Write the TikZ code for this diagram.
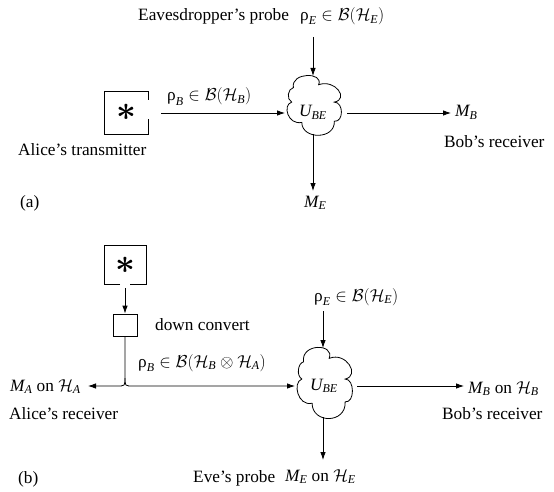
\documentclass[tikz,border=0pt]{standalone}
\usepackage{amsmath}
\usepackage{graphicx}
\usepackage{fontspec}
\setmainfont{Liberation Serif}
\usetikzlibrary{arrows.meta}
\newcommand{\cloudshape}{%
  \draw[line width=0.8pt] (0.15,0.2) .. controls (0.1,-0.07) and (0.7,-0.07) .. (0.6,0.15)
    .. controls (0.9,0.05) and (1.15,0.4) .. (0.88,0.45)
    .. controls (1.05,0.45) and (1.05,0.8) .. (0.88,0.78)
    .. controls (0.9,1.1) and (0.3,1.1) .. (0.3,0.8)
    .. controls (0.05,0.85) and (-0.05,0.5) .. (0.12,0.45)
    .. controls (0.02,0.4) and (0.05,0.22) .. (0.15,0.2) -- cycle;}
\newcommand{\vi}[1]{\textit{#1}}
\newcommand{\rh}{\textup{ρ}}
\newcommand{\bigast}{\scalebox{2.0}{\boldmath$\ast$}}
\begin{document}
\begin{tikzpicture}[x=1pt,y=-1pt,
  every node/.style={font=\fontsize{17.28}{20}\selectfont, inner sep=0pt},
  lbl/.style={anchor=base west},
  arr/.style={-{Latex[length=8pt,width=5.5pt]}, line width=0.8pt},
  ln/.style={line width=0.8pt}]
\useasboundingbox (0,0) rectangle (554,492);

% ---------------- panel (a) ----------------
\node[lbl] (eav) at (138,20.5) {Eavesdropper's probe};
\node[lbl] (rhoEa) at (300,20.5) {$\rh_{\vi{E}} \in \mathcal{B}(\mathcal{H}_{\vi{E}})$};
\coordinate (pa-top) at (313,37);
\coordinate (ua-n) at (313,76);
\coordinate (ua-w) at (285,113);
\coordinate (ua-e) at (347,113);
\coordinate (ua-s) at (313,134);
\coordinate (mb-a) at (451,113);
\coordinate (me-a) at (313,191);

% transmitter box with gap on the right
\node[minimum width=44pt, minimum height=42pt] (ta) at (126,112.5) {\bigast};
\draw[ln] (148,100) -- (148,91) -- (104,91) -- (104,134) -- (148,134) -- (148,119);
\coordinate (ta-out) at (161,113);

\begin{scope}[shift={(285,76)}, x=56pt, y=-58pt]
  \cloudshape
\end{scope}
\node[anchor=base] (ua) at (313,117) {$\vi{U}_{\vi{BE}}$};

\draw[arr] (pa-top) -- (ua-n);
\draw[arr] (ta-out) -- (ua-w);
\draw[arr] (ua-e) -- (mb-a);
\draw[arr] (ua-s) -- (me-a);

\node[lbl] (rhoBa) at (167,101) {$\rh_{\vi{B}} \in \mathcal{B}(\mathcal{H}_{\vi{B}})$};
\node[lbl] (alt) at (18,156) {Alice's transmitter};
\node[lbl] (pa) at (20,207) {(a)};
\node[lbl] (MBa) at (455,117) {$\vi{M}_{\vi{B}}$};
\node[lbl] (bra) at (444,147) {Bob's receiver};
\node[lbl] (MEa) at (304,207) {$\vi{M}_{\vi{E}}$};

% ---------------- panel (b) ----------------
\node[minimum width=42pt, minimum height=39pt] (tb) at (125,265) {\bigast};
\draw[ln] (120,284) -- (104,284) -- (104,245) -- (146,245) -- (146,284) -- (130,284);
\coordinate (tb-out) at (125,288);
\node[draw, line width=0.8pt, minimum width=24pt, minimum height=22pt] (sb) at (125,325) {};
\draw[arr] (tb-out) -- (sb.north);

\coordinate (fk) at (125,378);
\coordinate (fkc) at (125,386);
\coordinate (fkl) at (117,386);
\coordinate (fkr) at (133,386);
\coordinate (ma-tip) at (88,386);
\coordinate (ub-w) at (295,386);
\coordinate (ub-n) at (323,348);
\coordinate (ub-e) at (357,386);
\coordinate (ub-s) at (323,417);
\coordinate (pb-top) at (323,311);
\coordinate (mb-b) at (464,386);
\coordinate (me-b) at (323,460);

\begin{scope}[shift={(295,348)}, x=57pt, y=-69pt]
  \cloudshape
\end{scope}
\node[anchor=base] (ub) at (324,390) {$\vi{U}_{\vi{BE}}$};

\draw[arr] (sb.south) -- (fk) .. controls (fkc) .. (fkl) -- (ma-tip);
\draw[arr] (fk) .. controls (fkc) .. (fkr) -- (ub-w);
\draw[arr] (pb-top) -- (ub-n);
\draw[arr] (ub-e) -- (mb-b);
\draw[arr] (ub-s) -- (me-b);

\node[lbl] (rhoEb) at (314,301) {$\rh_{\vi{E}} \in \mathcal{B}(\mathcal{H}_{\vi{E}})$};
\node[lbl] (dc) at (155,330) {down convert};
\node[lbl] (rhoBb) at (138,367) {$\rh_{\vi{B}} \in \mathcal{B}(\mathcal{H}_{\vi{B}} \otimes \mathcal{H}_{\vi{A}})$};
\node[lbl] (MAb) at (10,391) {$\vi{M}_{\vi{A}}$ on $\mathcal{H}_{\vi{A}}$};
\node[lbl] (arb) at (9,419) {Alice's receiver};
\node[lbl] (pb) at (18,483) {(b)};
\node[lbl] (eve) at (193,482) {Eve's probe};
\node[lbl] (MEb) at (285,481) {$\vi{M}_{\vi{E}}$ on $\mathcal{H}_{\vi{E}}$};
\node[lbl] (MBb) at (468,393) {$\vi{M}_{\vi{B}}$ on $\mathcal{H}_{\vi{B}}$};
\node[lbl] (brb) at (442,419) {Bob's receiver};
\end{tikzpicture}
\end{document}
